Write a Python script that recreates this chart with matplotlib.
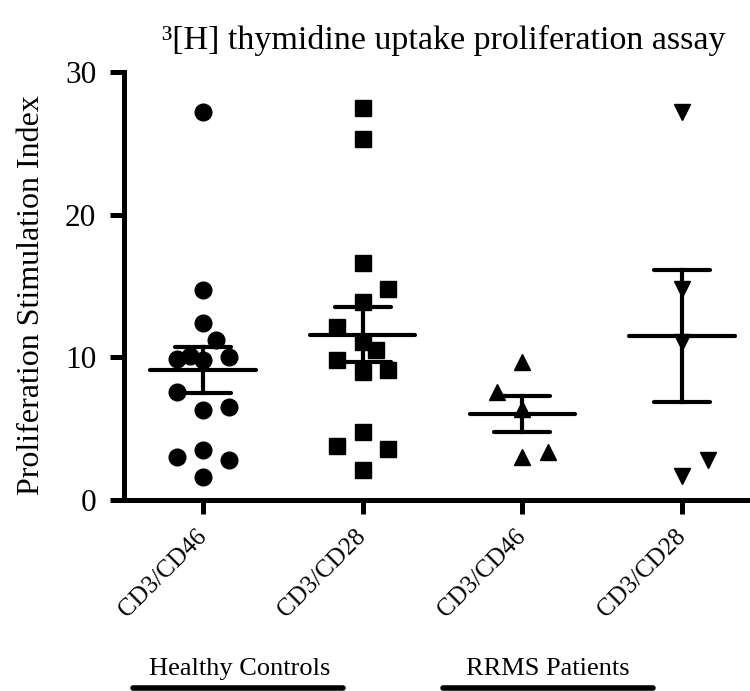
import numpy as np
import matplotlib
matplotlib.use("Agg")
import matplotlib.pyplot as plt
from matplotlib.lines import Line2D
from matplotlib.transforms import ScaledTranslation

plt.rcParams['font.family'] = ['Liberation Serif', 'DejaVu Serif']

# data (stimulation index per donor)
categories = ['CD3/CD46', 'CD3/CD28', 'CD3/CD46', 'CD3/CD28']
groups = ['Healthy Controls', 'RRMS Patients']

hc_cd46 = [27.2, 14.7, 12.4, 11.2, 9.9, 10.1, 9.8, 10.0, 7.6, 6.3, 6.5, 3.0, 3.5, 2.8, 1.6]
hc_cd28 = [27.5, 25.3, 16.6, 14.8, 13.9, 12.1, 11.1, 10.5, 9.8, 9.0, 9.1, 4.8, 3.8, 3.6, 2.1]
rrms_cd46 = [9.7, 7.6, 6.4, 3.0, 3.4]
rrms_cd28 = [27.2, 14.8, 11.1, 1.7, 2.8]

# column-scatter slots (Prism style side-by-side placement)
hc_cd46_slot = [0, 0, 0, 1, -2, -1, 0, 2, -2, 0, 2, -2, 0, 2, 0]
hc_cd28_slot = [0, 0, 0, 2, 0, -2, 0, 1, -2, 0, 2, 0, -2, 2, 0]
rrms_cd46_slot = [0, -2, 0, 0, 2]
rrms_cd28_slot = [0, 0, 0, 0, 2]

series = [hc_cd46, hc_cd28, rrms_cd46, rrms_cd28]
slots = [hc_cd46_slot, hc_cd28_slot, rrms_cd46_slot, rrms_cd28_slot]
markers = ['o', 's', '^', 'v']

step = 0.08      # horizontal slot width (category units)
mean_half = 0.33
cap_half = 0.175
lw = 3.0

fig = plt.figure(figsize=(7.5, 6.91), dpi=100)
ax = fig.add_axes([0.1653, 0.2764, 0.8347, 0.6194])

for i, (vals, sl) in enumerate(zip(series, slots)):
    vals = np.array(vals)
    x = i + np.array(sl) * step
    ax.plot(x, vals, linestyle='none', marker=markers[i], ms=12,
            color='black', mec='black', zorder=3)
    m = vals.mean()
    sem = vals.std(ddof=1) / np.sqrt(len(vals))
    ax.plot([i - mean_half, i + mean_half], [m, m], color='black', lw=lw,
            solid_capstyle='round', zorder=4)
    ax.plot([i, i], [m - sem, m + sem], color='black', lw=lw, zorder=4)
    for yy in (m - sem, m + sem):
        ax.plot([i - cap_half, i + cap_half], [yy, yy], color='black', lw=lw,
                solid_capstyle='round', zorder=4)

ax.set_xlim(-0.495, 3.425)
ax.set_ylim(0, 30)
ax.set_yticks([0, 10, 20, 30])
ax.set_xticks(range(len(categories)))
ax.set_xticklabels(categories, rotation=45, ha='right', va='center',
                   rotation_mode='anchor', fontsize=18)
shift = ScaledTranslation(4 / 72, 0, fig.dpi_scale_trans)
for lab in ax.get_xticklabels():
    lab.set_transform(lab.get_transform() + shift)
ax.tick_params(axis='y', labelsize=22.5, width=3.6, length=10, direction='out', pad=10)
ax.tick_params(axis='x', width=3.6, length=10, direction='out', pad=14)

for s in ['top', 'right']:
    ax.spines[s].set_visible(False)
for s in ['left', 'bottom']:
    ax.spines[s].set_linewidth(3.6)

ax.set_ylabel('Proliferation Stimulation Index', fontsize=23)
ax.yaxis.set_label_coords(-0.124, 0.48)

fig.text(0.592, 0.942, '³[H] thymidine uptake proliferation assay',
         ha='center', va='center', fontsize=24.5)

# group labels with underline bars
group_x = [0.319, 0.731]
bar_span = [(0.177, 0.457), (0.591, 0.871)]
for g, gx, (x0, x1) in zip(groups, group_x, bar_span):
    fig.text(gx, 0.023, g, ha='center', va='baseline', fontsize=19)
    fig.add_artist(Line2D([x0, x1], [0.005, 0.005], color='black', lw=4,
                          solid_capstyle='round', transform=fig.transFigure))

fig.savefig('out.png', dpi=100)
